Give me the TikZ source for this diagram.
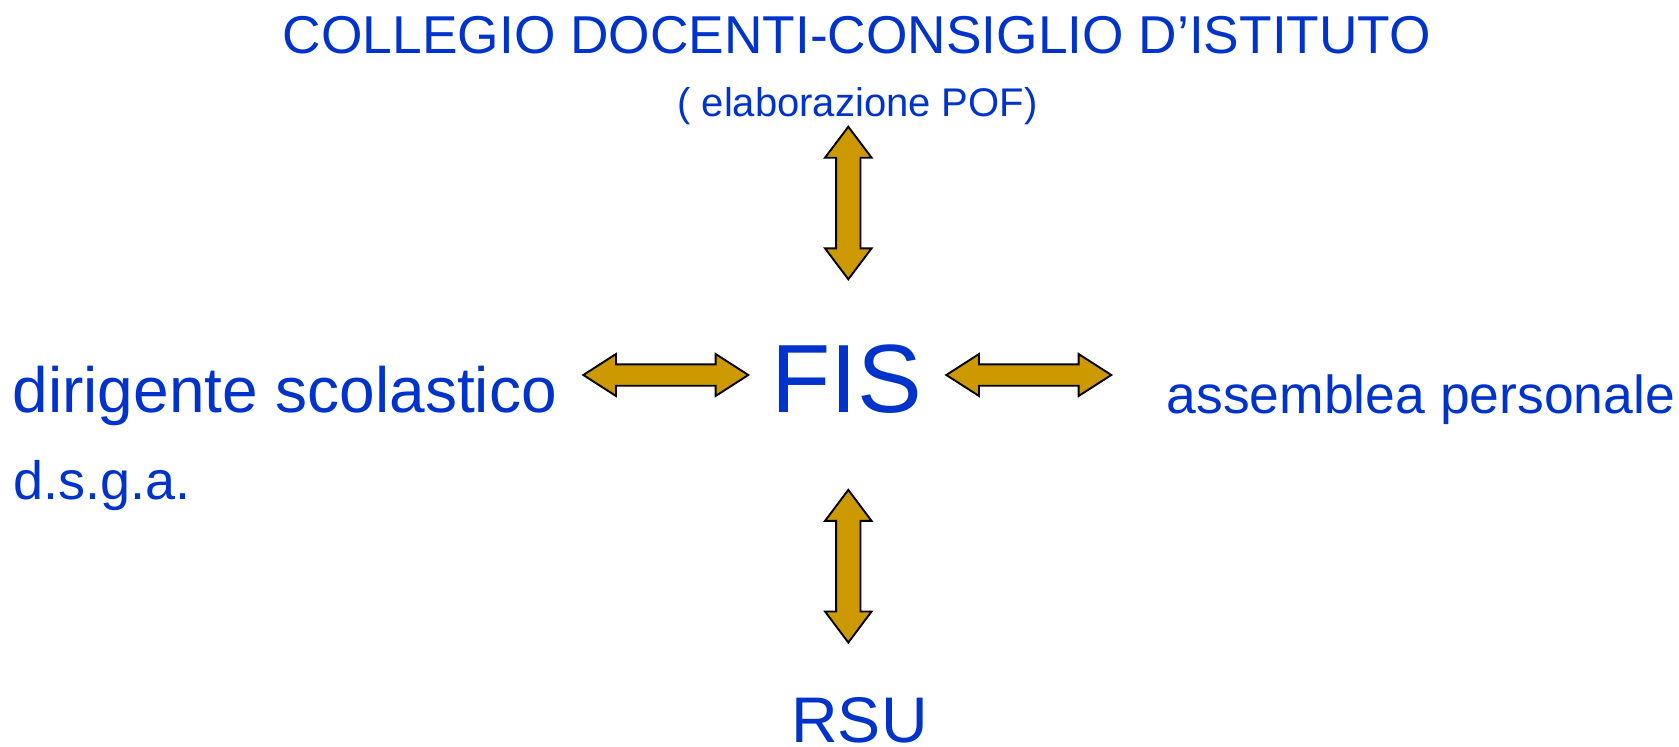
\documentclass[tikz,border=0pt]{standalone}
\usepackage{fontspec}
\setmainfont{Liberation Sans}
\definecolor{txtblue}{HTML}{0033CC}
\definecolor{gold}{HTML}{CC9900}
\tikzset{
  lbl/.style={inner sep=0pt, outer sep=0pt, text=txtblue},
  arrowbox/.style={fill=gold, draw=black, line width=1.9pt, line join=miter},
  harr/.pic={\draw[arrowbox] (-82.5,0) -- (-49.8,-21) -- (-49.8,-10.7) -- (49.8,-10.7) -- (49.8,-21) -- (82.5,0) -- (49.8,21) -- (49.8,10.7) -- (-49.8,10.7) -- (-49.8,21) -- cycle;},
  varr/.pic={\draw[arrowbox] (0,-76.3) -- (-23.3,-45.3) -- (-12.2,-45.3) -- (-12.2,45.3) -- (-23.3,45.3) -- (0,76.3) -- (23.3,45.3) -- (12.2,45.3) -- (12.2,-45.3) -- (23.3,-45.3) -- cycle;}
}
\newcommand{\fsz}[1]{\fontsize{#1}{#1}\selectfont}
\begin{document}
\begin{tikzpicture}[x=1pt,y=-1pt]
\useasboundingbox[fill=white] (0,0) rectangle (1679,747);
\node[lbl, anchor=base] (title) at (857,53.5) {\fsz{53.3}COLLEGIO DOCENTI-CONSIGLIO D’ISTITUTO};
\node[lbl, anchor=base] (pof) at (857.5,116) {\fsz{40}( elaborazione POF)};
\node[lbl, anchor=base] (fis) at (847,412.7) {\fsz{97}FIS};
\node[lbl, anchor=base west] (ds) at (12.6,412) {\fsz{64}dirigente scolastico};
\node[lbl, anchor=base west] (dsga) at (13.2,499.3) {\fsz{54}d.s.g.a.};
\node[lbl, anchor=base west] (ass) at (1166.6,413) {\fsz{53.5}assemblea personale};
\node[lbl, anchor=base] (rsu) at (859.5,742) {\fsz{64.5}RSU};
\pic (atop) at (848.3,203) {varr};
\pic (abot) at (848.3,566.2) {varr};
\pic (aleft) at (665.8,375) {harr};
\pic (aright) at (1028.8,375) {harr};
\end{tikzpicture}
\end{document}
